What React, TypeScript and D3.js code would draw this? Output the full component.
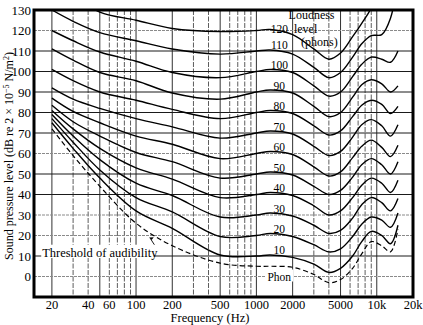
import React from "react";
import * as d3 from "d3";

// Frequency nodes (Hz) at which each equal-loudness contour is read
const frequencies = [20, 30, 50, 100, 200, 500, 1000, 1300, 2000, 3000, 4000, 5000, 6300, 7500, 9000, 11000, 13000, 15000];

// Sound pressure level (dB) of each contour at the frequency nodes
const thresholdCurve = [72, 59, 44, 26, 15, 6.5, 5, 5, 4.5, 1, -3, -1.5, 4, 11, 17, 15, 12, 23];
const phon10 = [75, 62.5, 48, 32, 23.5, 10.5, 10, 10.5, 9.3, 6, 2, 4, 10, 17, 22, 20, 16, 25];
const phon20 = [77, 65.5, 52, 38.5, 31.5, 19.5, 20, 21, 19.5, 15.5, 12, 13.5, 19.5, 25.5, 29, 27.5, 24, 31];
const phon30 = [79, 68.5, 57, 45.5, 39.5, 29, 30, 31, 29.5, 25, 21, 22.5, 28.5, 35, 38.5, 36, 32, 38];
const phon40 = [81, 72, 62.5, 53, 47.5, 38.5, 40, 41, 39.5, 34.5, 30, 32, 38.5, 44.5, 48, 45.5, 41, 47];
const phon50 = [83.5, 75.5, 68.5, 60.5, 56, 48, 50, 51, 49.5, 44, 40, 42, 48.5, 54.5, 57.5, 54.5, 50, 56];
const phon60 = [87, 80.5, 75, 68.5, 64.5, 57.5, 60, 61, 59.5, 53.5, 49, 51, 58, 63.5, 66.5, 63, 58.5, 64];
const phon70 = [92, 86.5, 82, 77, 73, 67.5, 70, 71, 69.5, 63.5, 59, 61, 68, 74, 76.5, 73.5, 68.5, 74];
const phon80 = [101, 95.5, 90, 86, 81.5, 77, 80, 81, 79.5, 73.5, 69, 71, 78, 83.5, 86, 84, 79.5, 83];
const phon90 = [111, 105.5, 99.5, 95.5, 89.5, 86.5, 90, 91, 89.5, 83, 78, 80, 87.5, 93.5, 96, 94, 90, 93];
const phon100 = [120, 115, 109.5, 105, 99.5, 97, 100, 101, 99.5, 93, 88, 90, 97.5, 103.5, 107, 106, 104.5, 110];
const phon110 = [130, 124.5, 119, 115, 111, 108.5, 110, 110.5, 108.5, 102, 97, 99.5, 107, 113.5, 117.5, 118, 126, 145];
const phon120 = [145, 137, 129, 125, 121, 119.5, 120, 120.5, 118, 111, 106, 109, 117, 123.5, 131, 145, 160, 175];

const phonLevels = [10, 20, 30, 40, 50, 60, 70, 80, 90, 100, 110, 120];
const phonCurves = [phon10, phon20, phon30, phon40, phon50, phon60, phon70, phon80, phon90, phon100, phon110, phon120];

const xTickValues = [20, 40, 60, 100, 200, 500, 1000, 2000, 5000, 10000, 20000];
const xTickLabels = ["20", "40", "60", "100", "200", "500", "1000", "2000", "5000", "10k", "20k"];
const yTickValues = [0, 10, 20, 30, 40, 50, 60, 70, 80, 90, 100, 110, 120, 130];
const gridFreqs = [20, 30, 40, 50, 60, 70, 80, 90, 100, 200, 300, 400, 500, 600, 700, 800, 900, 1000, 2000, 3000, 4000, 5000, 6000, 7000, 8000, 9000, 10000];
const solidGridFreqs = [20, 50, 100, 200, 500, 1000, 2000, 5000, 10000];
const grayGridLevels = [0, 20, 30, 60, 120];

const FONT = "'Liberation Serif', 'Times New Roman', serif";

export default function App() {
  const W = 423;
  const H = 325;
  const x = d3.scaleLog().domain([14.2, 20000]).range([34, 413]);
  const y = d3.scaleLinear().domain([-10, 130]).range([297, 10]);
  const [x0, x1] = x.range();
  const [y0, y1] = y.range();

  const line = d3
    .line<number>()
    .x((_, i) => x(frequencies[i]))
    .y((d) => y(d))
    .curve(d3.curveCatmullRom.alpha(0.5));

  const labelX = x(1550);

  return (
    <svg
      width={W}
      height={H}
      viewBox={`0 0 ${W} ${H}`}
      style={{ position: "absolute", left: 0, top: 0, background: "#fff" }}
      fontFamily={FONT}
    >
      <defs>
        <clipPath id="plotClip">
          <rect x={x0} y={y1} width={x1 - x0} height={y0 - y1} />
        </clipPath>
      </defs>
      <rect x={0} y={0} width={W} height={H} fill="#fff" />

      {/* vertical grid */}
      {gridFreqs.map((f) => {
        const solid = solidGridFreqs.includes(f);
        return (
          <line
            key={"vg" + f}
            x1={x(f)}
            x2={x(f)}
            y1={y1}
            y2={y0}
            stroke={solid ? "#1a1a1a" : "#333"}
            strokeWidth={solid ? 0.9 : 0.8}
            strokeDasharray={solid ? undefined : "5,1.5"}
          />
        );
      })}
      {/* horizontal grid */}
      {yTickValues.slice(0, -1).map((v) => {
        const gray = grayGridLevels.includes(v);
        return (
          <line
            key={"hg" + v}
            x1={x0}
            x2={x1}
            y1={y(v)}
            y2={y(v)}
            stroke={gray ? "#8a8a8a" : "#1a1a1a"}
            strokeWidth={1}
            strokeDasharray={gray ? "3,1" : undefined}
          />
        );
      })}

      {/* curves */}
      <g clipPath="url(#plotClip)" fill="none" stroke="#000">
        {phonCurves.map((c, i) => (
          <path key={"c" + phonLevels[i]} d={line(c) || ""} strokeWidth={1.4} />
        ))}
        <path d={line(thresholdCurve) || ""} strokeWidth={1.2} strokeDasharray="5,3" />
      </g>

      {/* phon labels */}
      {phonLevels.map((p) => (
        <text
          key={"pl" + p}
          x={labelX}
          y={y(p) - (p === 120 ? -2 : 2.5)}
          fontSize={11.5}
          textAnchor="middle"
          fill="#000"
        >
          {p}
        </text>
      ))}
      <rect x={labelX - 14} y={y(0) - 7} width={28} height={12} fill="#fff" />
      <text x={labelX} y={y(0) + 4.5} fontSize={11.5} textAnchor="middle">
        Phon
      </text>

      {/* Loudness level (phons) */}
      <text x={x(1850)} y={y(125.5)} fontSize={12}>Loudness</text>
      <text x={x(2050)} y={y(119)} fontSize={12}>level</text>
      <text x={x(2350)} y={y(112.5)} fontSize={12}>(phons)</text>

      {/* Threshold of audibility */}
      <rect x={x(16.3)} y={y(15.5)} width={x(140) - x(16.3)} height={y(9) - y(15.5)} fill="#fff" />
      <text x={x(16.6)} y={y(10) + 1} fontSize={12.5}>Threshold of audibility</text>
      <line x1={x(142)} y1={y(15.5)} x2={x(130)} y2={y(19)} stroke="#000" strokeWidth={0.9} />
      <path d={`M${x(130)},${y(19)} l4,-0.2 l-2.2,2.6 z`} fill="#000" />

      {/* frame */}
      <rect x={x0} y={y1} width={x1 - x0} height={y0 - y1} fill="none" stroke="#000" strokeWidth={3} />

      {/* y ticks */}
      {yTickValues.map((v) => (
        <text key={"yt" + v} x={31} y={y(v) + 4.5} fontSize={13} textAnchor="end">
          {v}
        </text>
      ))}
      {/* x ticks */}
      {xTickValues.map((f, i) => (
        <text key={"xt" + f} x={x(f)} y={309} fontSize={12.5} textAnchor="middle">
          {xTickLabels[i]}
        </text>
      ))}

      <text x={210} y={322} fontSize={12.5} textAnchor="middle">
        Frequency (Hz)
      </text>
      <text transform="translate(13,156) rotate(-90)" fontSize={12} textAnchor="middle">
        Sound pressure level (dB re 2 × 10
        <tspan dy={-4} fontSize={8}>−5</tspan>
        <tspan dy={4}> N/m</tspan>
        <tspan dy={-4} fontSize={8}>2</tspan>
        <tspan dy={4}>)</tspan>
      </text>
    </svg>
  );
}
